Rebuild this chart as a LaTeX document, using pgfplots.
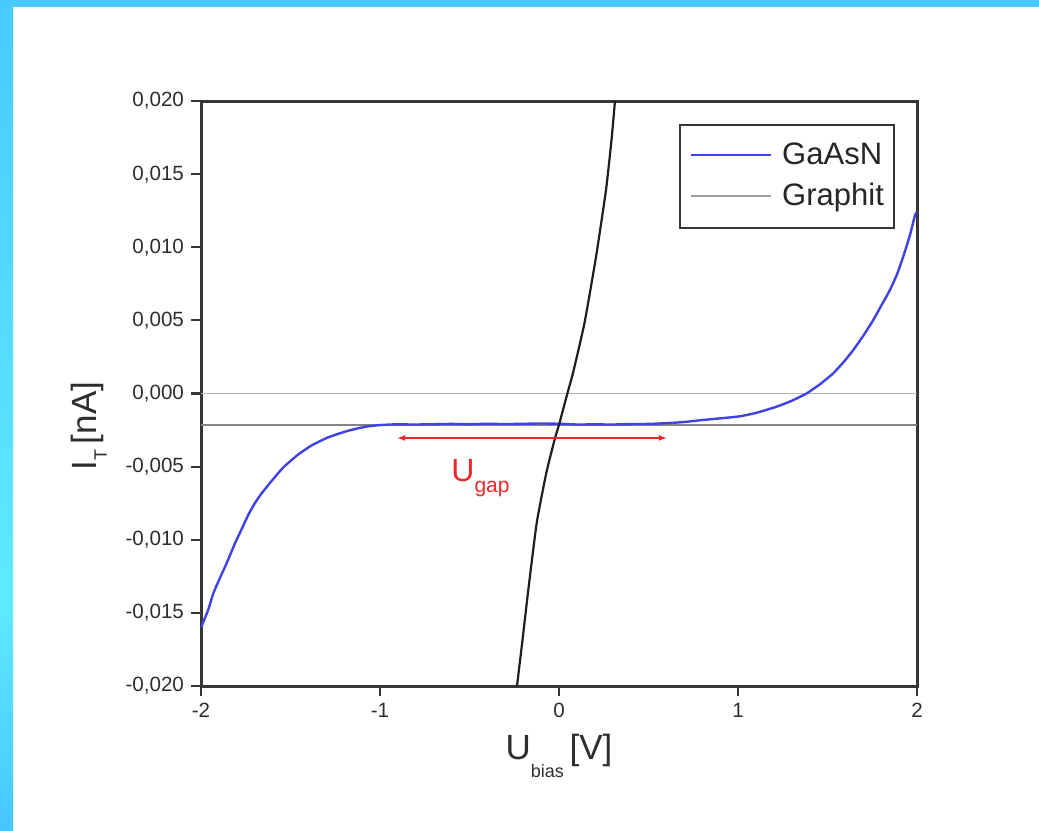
\documentclass[border=0pt]{standalone}
\usepackage{pgfplots}
\pgfplotsset{compat=1.18}
\usepackage{fontspec}
\setmainfont{Liberation Sans}
\usetikzlibrary{arrows.meta}

\definecolor{framecyanA}{HTML}{48CAFF}
\definecolor{framecyanB}{HTML}{5DEBFF}
\definecolor{framecyanC}{HTML}{47C6FF}
\definecolor{axiscol}{HTML}{363636}
\definecolor{labelcol}{HTML}{2E2E2E}
\definecolor{gaasn}{RGB}{66,66,228}
\definecolor{graphit}{HTML}{1E1E1E}
\definecolor{zerogray}{HTML}{B4B4B4}
\definecolor{levelgray}{HTML}{858585}
\definecolor{leggray}{HTML}{A0A0A0}
\definecolor{gapred}{RGB}{235,40,40}

% GaAsN tunnelling current I_T [nA] vs. bias U [V]
\pgfplotstableread{
U       I
-2.000  -0.01600
-1.960  -0.01480
-1.931  -0.01366
-1.890  -0.01250
-1.857  -0.01161
-1.810  -0.01024
-1.770  -0.00920
-1.736  -0.00830
-1.700  -0.00752
-1.661  -0.00682
-1.600  -0.00590
-1.540  -0.00505
-1.460  -0.00420
-1.382  -0.00355
-1.290  -0.00300
-1.196  -0.00261
-1.130  -0.00240
-1.065  -0.00224
-1.000  -0.00216
-0.916  -0.00211
-0.800  -0.00212
-0.700  -0.00210
-0.600  -0.00208
-0.500  -0.00210
-0.400  -0.00207
-0.300  -0.00209
-0.200  -0.00207
-0.100  -0.00205
 0.000  -0.00207
 0.100  -0.00212
 0.200  -0.00211
 0.300  -0.00212
 0.400  -0.00209
 0.500  -0.00208
 0.600  -0.00203
 0.700  -0.00195
 0.788  -0.00183
 0.900  -0.00170
 1.011  -0.00156
 1.100  -0.00133
 1.216  -0.00090
 1.300  -0.00050
 1.384   0.00001
 1.460   0.00065
 1.532   0.00138
 1.590   0.00215
 1.644   0.00297
 1.700   0.00395
 1.756   0.00503
 1.800   0.00600
 1.849   0.00708
 1.890   0.00820
 1.923   0.00935
 1.960   0.01080
 1.989   0.01220
 2.000   0.01240
}\gaasntable

% Graphite reference curve
\pgfplotstableread{
U        I
-0.2346  -0.020000
-0.2039  -0.016855
-0.1715  -0.013436
-0.1246  -0.008855
-0.0709  -0.005436
-0.0251  -0.003179
 0.0028  -0.002017
 0.0475   0.000034
 0.0782   0.001402
 0.1425   0.004821
 0.2067   0.009333
 0.2626   0.013915
 0.2933   0.017333
 0.3128   0.020000
}\graphittable

\newcommand\lowsub[3]{\raisebox{-#2}{\fontsize{#1}{#1}\selectfont #3}}

\begin{document}
\begin{tikzpicture}
\useasboundingbox (0,0) rectangle (519.5bp,415.5bp);
\fill[white] (0,0) rectangle (519.5bp,415.5bp);
\shade[top color=framecyanA, bottom color=framecyanB] (0,115bp) rectangle (6.5bp,415.5bp);
\shade[top color=framecyanB, bottom color=framecyanC] (0,0) rectangle (6.5bp,115.2bp);
\fill[framecyanA] (0,412bp) rectangle (519.5bp,415.5bp);

\begin{axis}[
  scale only axis,
  width=358bp, height=292.5bp,
  at={(100.5bp,72.5bp)}, anchor=south west,
  xmin=-2, xmax=2, ymin=-0.02, ymax=0.02,
  xtick={-2,-1,0,1,2},
  ytick={-0.020,-0.015,-0.010,-0.005,0,0.005,0.010,0.015,0.020},
  scaled y ticks=false,
  xtick pos=lower, ytick pos=left,
  tick align=outside,
  major tick length=5bp,
  tick style={axiscol, line width=1.1bp},
  axis line style={axiscol, line width=1.5bp},
  /pgf/number format/assume math mode=true,
  yticklabel style={/pgf/number format/.cd, fixed, fixed zerofill, precision=3, use comma},
  xticklabel style={/pgf/number format/.cd, fixed, precision=0},
  ticklabel style={font=\fontsize{10.3bp}{12bp}\selectfont, text=labelcol},
  xlabel={\fontsize{17.5bp}{17.5bp}\selectfont U\lowsub{9bp}{9bp}{bias}\,[V]},
  ylabel={\fontsize{17.5bp}{17.5bp}\selectfont I\lowsub{9bp}{5bp}{T}\,[nA]},
  xlabel style={at={(axis description cs:0.5,-0.1248)}, anchor=base, text=labelcol},
  ylabel style={at={(axis description cs:-0.1455,0.444)}, anchor=base, text=labelcol},
  legend style={
    at={(rel axis cs:1,1)}, xshift=-11bp, yshift=-11.5bp, anchor=north east,
    draw=axiscol, line width=1.1bp, fill=white,
    font=\fontsize{15.5bp}{18bp}\selectfont, text=black!85,
    inner xsep=5bp, inner ysep=8bp, row sep=5.5bp,
    nodes={inner sep=0pt, text height=11.5bp, text depth=3.5bp},
    /tikz/every odd column/.append style={column sep=5bp},
  },
  legend cell align=left,
  legend image code/.code={\draw[#1, line width=1bp] (0bp,0.5bp) -- (40bp,0.5bp);},
]

% reference levels
\addplot[zerogray, line width=0.8bp, forget plot] coordinates {(-2,0) (2,0)};
\addplot[levelgray, line width=0.8bp, forget plot] coordinates {(-2,-0.00215) (2,-0.00215)};

\addplot[gaasn, line width=1.2bp, smooth, tension=0.3] table[x=U, y=I] {\gaasntable};
\addlegendentry{GaAsN}
\addlegendimage{leggray, line width=1bp}
\addlegendentry{Graphit}

\addplot[graphit, line width=1.1bp, smooth, tension=0.3, forget plot] table[x=U, y=I] {\graphittable};

% band gap marker
\addplot[gapred, line width=0.8bp, {Latex[length=4bp,width=3bp]}-{Latex[length=4bp,width=3bp]}, forget plot]
  coordinates {(-0.905,-0.00304) (0.603,-0.00304)};
\node[anchor=base west, inner sep=0pt, text=gapred] at (axis cs:-0.603,-0.00605)
  {\fontsize{16bp}{16bp}\selectfont U\lowsub{10.5bp}{5.5bp}{gap}};
\end{axis}
\end{tikzpicture}
\end{document}
